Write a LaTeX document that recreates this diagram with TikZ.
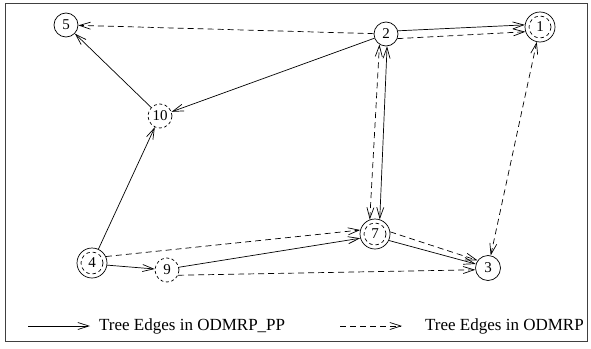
\documentclass[tikz,border=0pt]{standalone}
\usepackage{fontspec}
\setmainfont{Liberation Serif}
\usetikzlibrary{arrows.meta}
\begin{document}
\begin{tikzpicture}[x=1pt,y=-1pt,
  every node/.style={inner sep=0pt},
  arr/.style={-{Straight Barb[length=11pt,width=7pt]}, line width=0.7pt},
  darr/.style={{Straight Barb[length=11pt,width=7pt]}-{Straight Barb[length=11pt,width=7pt]}, line width=0.7pt},
  dsh/.style={dash pattern=on 6pt off 4pt},
  vtx/.style={circle, draw, line width=0.7pt, minimum size=#1, font=\fontsize{15}{15}\selectfont},
  vtx/.default=24pt,
  dvtx/.style={vtx=#1, dash pattern=on 3pt off 2.5pt},
  dvtx/.default=24pt,
  dbl/.style={vtx=30pt, append after command={
     \pgfextra{\node[circle, draw, line width=0.7pt, minimum size=22pt, dash pattern=on 3.5pt off 3pt] at (\tikzlastnode) {};}}},
  legend/.style={font=\fontsize{17}{17}\selectfont, anchor=west}
]
\useasboundingbox (0,0) rectangle (591,348);
\draw[line width=1pt, black!75] (5,3) rectangle (587,341);

\node[vtx] (n5) at (66,25) {5};
\node[dvtx] (n10) at (160,116) {10};
\node[vtx] (n2) at (386,34) {2};
\node[dbl] (n1) at (540,27) {1};
\node[dbl] (n4) at (92,263) {4};
\node[dvtx] (n9) at (167,270) {9};
\node[dbl] (n7) at (375,234) {7};
\node[vtx=25pt] (n3) at (488,268) {3};

% solid edges (ODMRP_PP)
\draw[arr] (n2.15) -- (n1.172);
\draw[arr] (n2) -- (n10);
\draw[arr] (n10) -- (n5);
\draw[arr] (n4) -- (n10);
\draw[arr] (n4.-8) -- (n9);
\draw[arr] (n9.13) -- (n7.-164);
\draw[arr] (n7.-25) -- (n3.162);
\draw[darr] (n7.72) -- (n2.-85);

% dashed edges (ODMRP)
\draw[arr,dsh] (n2) -- (n5);
\draw[arr,dsh] (n2.-22) -- (n1.-162);
\draw[darr,dsh] (n3) -- (n1);
\draw[arr,dsh] (n4.25) -- (n7.165);
\draw[arr,dsh] (n9.-25) -- (n3.188);
\draw[arr,dsh] (n7.8) -- (n3.144);
\draw[darr,dsh] (n7.110) -- (n2.-122);

% legend
\coordinate (la) at (28,326);
\coordinate (lb) at (90,326);
\coordinate (lc) at (340,326);
\coordinate (ld) at (402,326);
\draw[arr] (la) -- (lb);
\draw[arr,dsh] (lc) -- (ld);
\node[legend] (t1) at (99,326) {Tree Edges in ODMRP\_PP};
\node[legend] (t2) at (425,326) {Tree Edges in ODMRP};
\end{tikzpicture}
\end{document}
